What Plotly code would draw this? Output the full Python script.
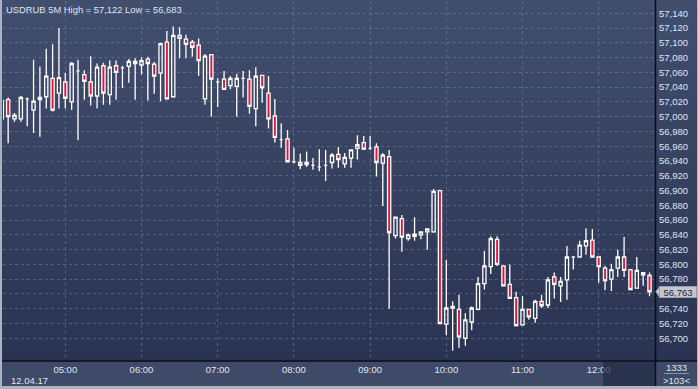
import pandas as pd
import plotly.graph_objects as go

# ---- data: USDRUB 5-minute candles, 12.04.17 04:10 .. 12:40 ----
start_time = "2017-04-12 04:10"
opens = [56.997, 57.023, 56.997, 56.997, 57.024, 57.009, 57.023, 57.027, 57.052, 57.032,
         57.047, 57.020, 57.062, 57.057, 57.047, 57.028, 57.069, 57.030, 57.069, 57.066,
         57.068, 57.072, 57.070, 57.078, 57.071, 57.059, 57.101, 57.027, 57.110, 57.105,
         57.101, 57.097, 57.024, 57.084, 57.047, 57.051, 57.042, 57.041, 57.052, 57.051,
         57.011, 57.056, 57.032, 57.001, 56.969, 56.970, 56.939, 56.938, 56.935, 56.934,
         56.932, 56.934, 56.938, 56.949, 56.936, 56.944, 56.957, 56.965, 56.957, 56.959,
         56.937, 56.946, 56.839, 56.862, 56.835, 56.841, 56.840, 56.844, 56.844, 56.900,
         56.719, 56.743, 56.739, 56.700, 56.722, 56.739, 56.774, 56.797, 56.834, 56.798,
         56.773, 56.755, 56.718, 56.739, 56.727, 56.750, 56.745, 56.783, 56.771, 56.779,
         56.810, 56.810, 56.825, 56.833, 56.810, 56.795, 56.780, 56.795, 56.810, 56.793,
         56.768, 56.789, 56.785]
highs = [57.025, 57.026, 57.005, 57.028, 57.026, 57.077, 57.068, 57.092, 57.098, 57.120,
         57.059, 57.074, 57.077, 57.063, 57.082, 57.072, 57.073, 57.076, 57.076, 57.069,
         57.078, 57.079, 57.080, 57.081, 57.074, 57.100, 57.116, 57.122, 57.121, 57.111,
         57.104, 57.106, 57.085, 57.084, 57.052, 57.062, 57.055, 57.058, 57.062, 57.063,
         57.067, 57.056, 57.055, 57.024, 56.991, 56.982, 56.958, 56.950, 56.953, 56.944,
         56.956, 56.955, 56.951, 56.959, 56.951, 56.955, 56.975, 56.974, 56.974, 56.964,
         56.951, 56.955, 56.864, 56.867, 56.842, 56.864, 56.844, 56.849, 56.902, 56.901,
         56.806, 56.750, 56.759, 56.734, 56.743, 56.783, 56.818, 56.838, 56.838, 56.799,
         56.800, 56.763, 56.757, 56.739, 56.752, 56.759, 56.783, 56.789, 56.783, 56.825,
         56.811, 56.832, 56.849, 56.848, 56.810, 56.798, 56.801, 56.820, 56.837, 56.793,
         56.810, 56.789, 56.789]
lows = [56.994, 56.964, 56.993, 56.993, 56.987, 56.978, 56.973, 57.011, 57.007, 57.011,
        57.011, 57.009, 56.968, 57.023, 57.015, 57.011, 57.016, 57.016, 57.023, 57.039,
        57.046, 57.023, 57.057, 57.022, 57.031, 57.021, 57.023, 57.026, 57.079, 57.079,
        57.081, 57.055, 57.016, 57.000, 57.013, 57.036, 57.037, 57.000, 57.026, 57.004,
        56.987, 57.019, 56.984, 56.965, 56.958, 56.938, 56.937, 56.929, 56.932, 56.928,
        56.926, 56.913, 56.930, 56.931, 56.931, 56.931, 56.942, 56.955, 56.955, 56.919,
        56.879, 56.740, 56.835, 56.817, 56.832, 56.832, 56.834, 56.820, 56.843, 56.720,
        56.704, 56.683, 56.687, 56.690, 56.711, 56.738, 56.766, 56.787, 56.798, 56.770,
        56.754, 56.716, 56.717, 56.725, 56.721, 56.741, 56.741, 56.754, 56.749, 56.752,
        56.793, 56.810, 56.813, 56.810, 56.775, 56.765, 56.764, 56.783, 56.783, 56.765,
        56.767, 56.771, 56.757]
closes = [57.022, 57.000, 57.002, 57.026, 57.024, 57.021, 57.026, 57.055, 57.009, 57.053,
          57.025, 57.072, 57.062, 57.048, 57.028, 57.067, 57.032, 57.067, 57.060, 57.066,
          57.075, 57.075, 57.076, 57.072, 57.055, 57.099, 57.024, 57.110, 57.106, 57.098,
          57.094, 57.076, 57.082, 57.051, 57.047, 57.037, 57.052, 57.052, 57.052, 57.014,
          57.055, 57.039, 56.997, 56.972, 56.969, 56.939, 56.939, 56.934, 56.938, 56.934,
          56.932, 56.934, 56.948, 56.942, 56.945, 56.955, 56.962, 56.956, 56.957, 56.938,
          56.948, 56.843, 56.864, 56.837, 56.840, 56.838, 56.844, 56.848, 56.899, 56.720,
          56.741, 56.741, 56.702, 56.725, 56.741, 56.774, 56.798, 56.835, 56.800, 56.771,
          56.754, 56.717, 56.739, 56.729, 56.750, 56.744, 56.779, 56.773, 56.777, 56.810,
          56.810, 56.826, 56.832, 56.810, 56.797, 56.778, 56.793, 56.810, 56.792, 56.766,
          56.792, 56.786, 56.763]
y_ticks = [round(56.70 + 0.02 * k, 2) for k in range(23)]
hour_ticks = ["05:00", "06:00", "07:00", "08:00", "09:00", "10:00", "11:00", "12:00"]
date_label = "12.04.17"
symbol = "USDRUB 5M"
corner_top = "1333"

times = pd.date_range(start_time, periods=len(opens), freq="5min")

def fmt(v):
    return f"{v:.3f}".replace(".", ",")

W, H = 698, 389
L, R, T, B = 3, 655, 1, 361  # plot area in pixels
pw, ph = R - L, B - T

def px(x):
    return (x - L) / pw

def py(y):
    return (B - y) / ph

FONT = "Liberation Sans, Arial, sans-serif"
TXT = "#dfe6f2"
RED = "#e0153c"
last = closes[-1]

fig = go.Figure()
fig.add_trace(go.Candlestick(
    x=times, open=opens, high=highs, low=lows, close=closes,
    increasing=dict(line=dict(color="#ffffff", width=1.3), fillcolor="rgba(0,0,0,0)"),
    decreasing=dict(line=dict(color="#ffffff", width=1.3), fillcolor=RED),
    whiskerwidth=0, hoverinfo="skip", showlegend=False,
))

shapes = []
# vertical gradient background
top_c = (0x42, 0x4e, 0x6e)
bot_c = (0x2a, 0x33, 0x51)
n = 40
for k in range(n):
    f = (k + 0.5) / n
    c = tuple(round(top_c[j] + (bot_c[j] - top_c[j]) * f) for j in range(3))
    y_top = ph * k / n - (2 if k == 0 else 0)
    y_bot = min(ph * (k + 1) / n + 0.6, B)
    shapes.append(dict(type="rect", xref="paper", yref="paper", layer="below",
                       x0=px(0), x1=px(W), y0=py(y_bot), y1=py(y_top),
                       fillcolor="rgb(%d,%d,%d)" % c, line=dict(width=0)))
# dark scroll region bottom right
shapes.append(dict(type="rect", xref="paper", yref="paper", layer="above",
                   x0=px(603), x1=px(655), y0=py(386), y1=py(361.5),
                   fillcolor="rgba(36,44,70,0.72)", line=dict(width=0)))
# black separator lines
shapes.append(dict(type="line", xref="paper", yref="paper", layer="above",
                   x0=px(655.5), x1=px(655.5), y0=py(386), y1=py(-2),
                   line=dict(color="#0a0d16", width=1.5)))
shapes.append(dict(type="line", xref="paper", yref="paper", layer="above",
                   x0=px(0), x1=px(W), y0=py(361), y1=py(361),
                   line=dict(color="#0a0d16", width=1.5)))
# corner divider
shapes.append(dict(type="line", xref="paper", yref="paper", layer="above",
                   x0=px(664), x1=px(689), y0=py(373.5), y1=py(373.5),
                   line=dict(color="#8a93a6", width=1)))
# outer light frame
frame = "#aab3c5"
shapes.append(dict(type="rect", xref="paper", yref="paper", layer="above",
                   x0=px(-2), x1=px(2), y0=py(H + 2), y1=py(-2), fillcolor=frame, line=dict(width=0)))
shapes.append(dict(type="rect", xref="paper", yref="paper", layer="above",
                   x0=px(-2), x1=px(W + 2), y0=py(H + 2), y1=py(386), fillcolor=frame, line=dict(width=0)))
shapes.append(dict(type="rect", xref="paper", yref="paper", layer="above",
                   x0=px(697), x1=px(W + 2), y0=py(H + 2), y1=py(-2), fillcolor=frame, line=dict(width=0)))
# last price marker notch
d = 5.5 / 738.6
shapes.append(dict(type="path", xref="paper", yref="y", layer="above",
                   path=f"M {px(655.8)},{last} L {px(660)},{last + d} L {px(660)},{last - d} Z",
                   fillcolor="#c3c7cf", line=dict(color="#9aa0ab", width=1)))

annotations = [
    dict(xref="paper", yref="paper", x=px(4), y=py(1.5), xanchor="left", yanchor="top",
         text=f"{symbol} High = {fmt(max(highs))} Low = {fmt(min(lows))}", showarrow=False,
         font=dict(family=FONT, size=9.4, color=TXT)),
    dict(xref="paper", yref="paper", x=px(30), y=py(380), xanchor="center", yanchor="middle",
         text=date_label, showarrow=False, font=dict(family=FONT, size=9.5, color=TXT)),
    dict(xref="paper", yref="paper", x=px(676.5), y=py(367), xanchor="center", yanchor="middle",
         text=corner_top, showarrow=False, font=dict(family=FONT, size=9.5, color=TXT)),
    dict(xref="paper", yref="paper", x=px(676), y=py(380.5), xanchor="center", yanchor="middle",
         text=f">{len(opens)}<", showarrow=False, font=dict(family=FONT, size=9.5, color=TXT)),
    dict(xref="paper", yref="y", x=px(659), y=last, xanchor="left", yanchor="middle",
         text=fmt(last), showarrow=False, width=36, height=10, align="center",
         bgcolor="#c3c7cf", bordercolor="#9aa0ab", borderwidth=1, borderpad=0,
         font=dict(family=FONT, size=9.5, color="#1c2438")),
]

x_left = pd.Timestamp(start_time) + pd.Timedelta(minutes=(L - 1.8) / 6.35 * 5)
x_right = pd.Timestamp(start_time) + pd.Timedelta(minutes=(R - 1.8) / 6.35 * 5)
y_top = 57.158 - 0.001354 * T
y_bot = 57.158 - 0.001354 * B
day = pd.Timestamp(start_time).strftime("%Y-%m-%d")

# tick label hidden behind the last-price marker
y_text = ["" if abs(v - last) < 0.009 else fmt(v) for v in y_ticks]

fig.update_layout(
    width=W, height=H,
    margin=dict(l=L, r=W - R, t=T, b=H - B, pad=0),
    paper_bgcolor="#3e4a67",
    plot_bgcolor="rgba(0,0,0,0)",
    separators=", ",
    boxgap=0.28,
    shapes=shapes,
    annotations=annotations,
    showlegend=False,
    xaxis=dict(
        type="date", range=[x_left, x_right], rangeslider=dict(visible=False),
        tickvals=[f"{day} {h}" for h in hour_ticks], ticktext=hour_ticks,
        showgrid=True, gridcolor="rgba(125,140,178,0.45)", griddash="3px,3px", gridwidth=1,
        zeroline=False, showline=False, ticks="",
        tickfont=dict(family=FONT, size=9.5, color=TXT), ticklabelstandoff=1,
        fixedrange=True,
    ),
    yaxis=dict(
        side="right", range=[y_bot, y_top], tickvals=y_ticks, ticktext=y_text,
        showgrid=True, gridcolor="rgba(125,140,178,0.45)", griddash="3px,3px", gridwidth=1,
        zeroline=False, showline=False, ticks="",
        tickfont=dict(family=FONT, size=9.5, color=TXT), ticklabelstandoff=3,
        fixedrange=True,
    ),
)

fig.write_html(
    "out.html",
    config={"displayModeBar": False},
    post_script="document.body.style.margin='0';document.body.style.overflow='hidden';",
)
